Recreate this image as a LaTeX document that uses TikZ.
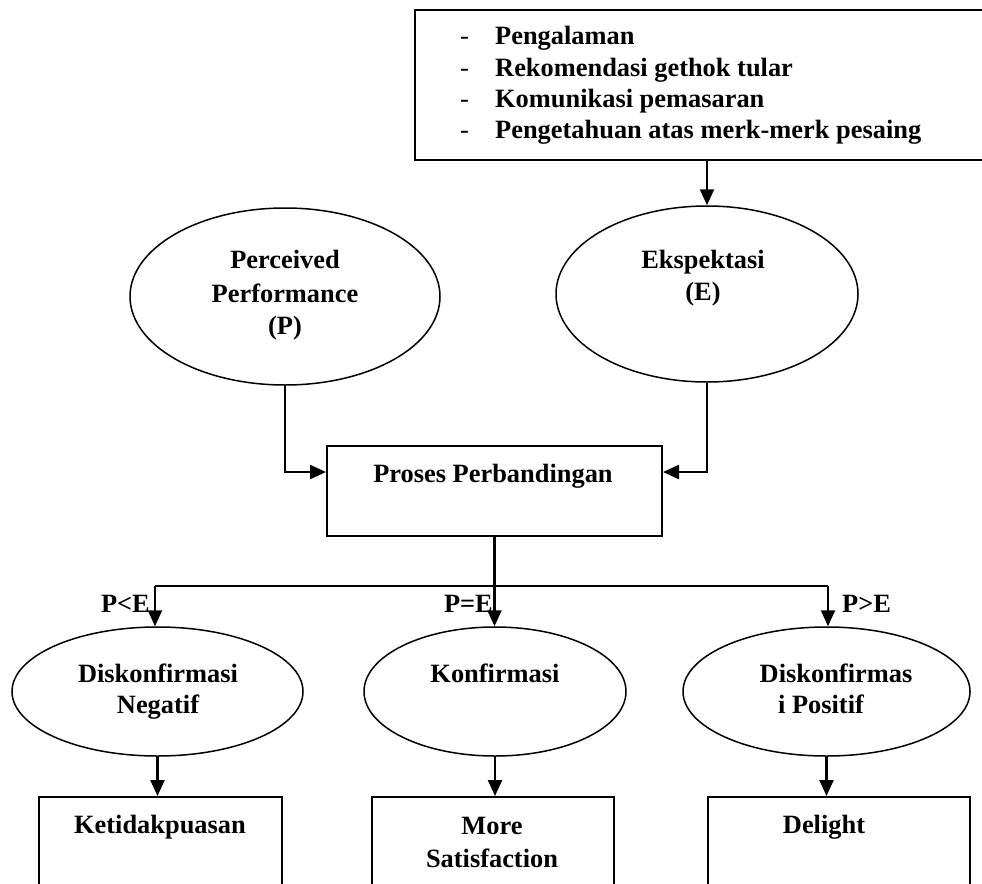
\documentclass[tikz,border=0pt]{standalone}
\usepackage{fontspec}
\setmainfont{Liberation Serif}
\usetikzlibrary{shapes.geometric,arrows.meta}
\begin{document}
\begin{tikzpicture}[x=1pt,y=-1pt,
  conn/.style={line width=2.3pt},
  arr/.style={conn,-{Triangle[length=16pt,width=14pt]}},
  oval/.style={ellipse,draw,line width=1.5pt,inner sep=0pt},
  boxs/.style={rectangle,draw,line width=2pt,inner sep=0pt},
  txt/.style={anchor=base,font=\fontsize{26.4}{31}\selectfont\bfseries,inner sep=0pt}]
\useasboundingbox (0,0) rectangle (982,883);

% source box
\node[boxs,minimum width=580pt,minimum height=150pt] (src) at (705,85) {};
\foreach \y/\t [count=\i] in {45/Pengalaman,77/Rekomendasi gethok tular,107/Komunikasi pemasaran,138/Pengetahuan atas merk-merk pesaing}{
  \node[txt,anchor=base west,font=\fontsize{26.4}{31}\selectfont] (d\i) at (460,\y) {-};
  \node[txt,anchor=base west] (s\i) at (495,\y) {\t};
}

% upper ellipses
\node[oval,minimum width=310pt,minimum height=177pt] (P) at (285,296.5) {};
\node[oval,minimum width=302pt,minimum height=176pt] (E) at (707,294) {};
\node[txt] (tP1) at (285,268) {Perceived};
\node[txt] (tP2) at (285,302) {Performance};
\node[txt] (tP3) at (285,334) {(P)};
\node[txt] (tE1) at (703,268) {Ekspektasi};
\node[txt] (tE2) at (703,300) {(E)};

% comparison box
\node[boxs,minimum width=335pt,minimum height=90pt] (proc) at (494.5,491) {};
\node[txt] (tproc) at (493,482) {Proses Perbandingan};

% lower ellipses
\node[oval,minimum width=291pt,minimum height=129pt] (neg) at (157.5,691.5) {};
\node[oval,minimum width=262pt,minimum height=129pt] (konf) at (495,691.5) {};
\node[oval,minimum width=287pt,minimum height=129pt] (pos) at (826.5,691.5) {};
\node[txt] (tn1) at (158,682) {Diskonfirmasi};
\node[txt] (tn2) at (158,713) {Negatif};
\node[txt] (tk1) at (495,682) {Konfirmasi};
\node[txt] (tp1) at (836,682) {Diskonfirmas};
\node[txt] (tp2) at (821,713) {i Positif};

% result boxes
\node[boxs,minimum width=243pt,minimum height=103pt] (b1) at (160.5,848.5) {};
\node[boxs,minimum width=242pt,minimum height=103pt] (b2) at (493,848.5) {};
\node[boxs,minimum width=262pt,minimum height=103pt] (b3) at (839,848.5) {};
\node[txt] (tb1) at (160,833) {Ketidakpuasan};
\node[txt] (tb2a) at (492,834) {More};
\node[txt] (tb2b) at (492,867) {Satisfaction};
\node[txt] (tb3) at (824,833) {Delight};

% labels
\node[txt,anchor=base east] (lt) at (150,612) {P<E};
\node[txt,anchor=base east] (eq) at (493,612) {P=E};
\node[txt,anchor=base west] (gt) at (842,612) {P>E};

% connectors
\coordinate (lvl) at (0,472);
\coordinate (jl) at (155,586);
\coordinate (jr) at (828,586);
\draw[arr] (src.south -| E.north) -- (E.north);
\draw[arr] (P.south) |- (proc.west |- lvl);
\draw[arr] (E.south) |- (proc.east |- lvl);
\draw[arr] (proc.south) -- (proc.south |- konf.north);
\draw[conn] (jl) -- (jr);
\draw[arr] (jl) -- (jl |- neg.north);
\draw[arr] (jr) -- (jr |- pos.north);
\draw[arr] (neg.south) -- (neg.south |- b1.north);
\draw[arr] (konf.south) -- (konf.south |- b2.north);
\draw[arr] (pos.south) -- (pos.south |- b3.north);
\end{tikzpicture}
\end{document}
